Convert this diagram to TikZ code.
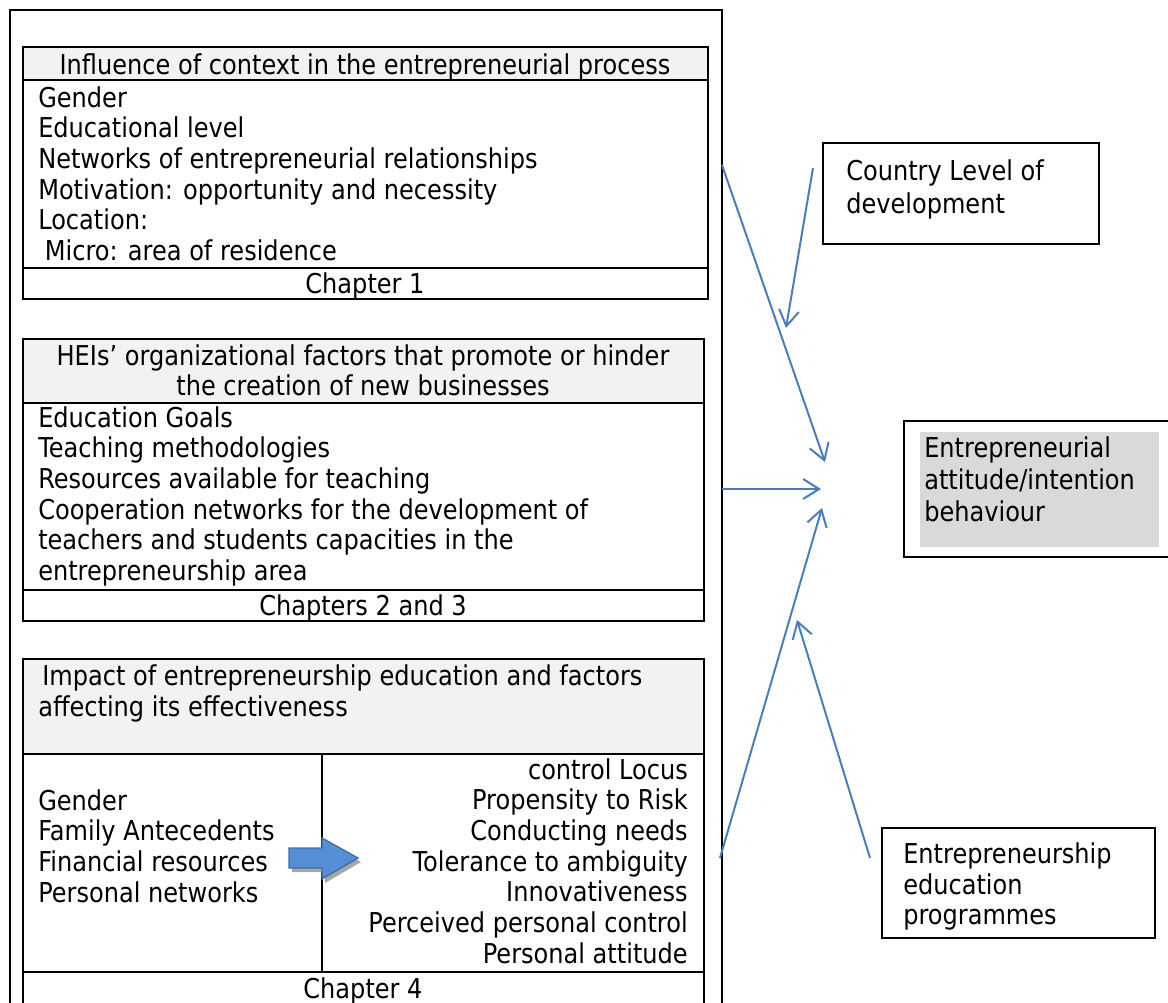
\documentclass[tikz,border=0pt]{standalone}
\usepackage{fontspec}
\setmainfont{DejaVu Sans}[FakeStretch=0.88]
\usetikzlibrary{arrows.meta}
\definecolor{hdrgray}{HTML}{F2F2F2}
\definecolor{boxgray}{HTML}{D9D9D9}
\definecolor{linkblue}{HTML}{4A7EBB}
\definecolor{bigblue}{HTML}{558ED5}
\definecolor{bigedge}{HTML}{3F6EA8}
\tikzset{
  txt/.style={inner sep=0pt, font=\fontsize{20.5}{24}\selectfont},
  frame/.style={draw=black, line width=1.1pt},
  sideframe/.style={draw=black, line width=0.9pt},
  link/.style={draw=linkblue, line width=1.5pt, -{Straight Barb[length=12pt,width=15pt]}}
}
\begin{document}
\begin{tikzpicture}[x=0.75pt,y=-0.75pt]
\useasboundingbox (0,0) rectangle (1168,1003);
\def\bl{23}
\def\tx{38}
\def\dy{30.7}
% outer frame
\draw[frame] (10,1003) -- (10,10) -- (722,10) -- (722,1003);
% context box
\fill[hdrgray] (\bl,47) rectangle (708,80);
\draw[frame] (\bl,47) rectangle (708,299);
\draw[frame] (\bl,80) -- (708,80);
\draw[frame] (\bl,268) -- (708,268);
\node[txt, anchor=base] (ctxhead) at (365,74) {Influence of context in the entrepreneurial process};
\foreach \t [count=\i from 0] in {Gender,Educational level,Networks of entrepreneurial relationships,Motivation: opportunity and necessity,Location:,\hspace{5pt}Micro: area of residence}
  \node[txt, anchor=base west] (ctx\i) at (\tx,{107+\dy*\i}) {\t};
\node[txt, anchor=base] (ctxchap) at (365,293) {Chapter 1};
% HEI box
\fill[hdrgray] (\bl,339) rectangle (704,403);
\draw[frame] (\bl,339) rectangle (704,621);
\draw[frame] (\bl,403) -- (704,403);
\draw[frame] (\bl,590) -- (704,590);
\node[txt, anchor=base] (heihead1) at (363,365) {HEIs’ organizational factors that promote or hinder};
\node[txt, anchor=base] (heihead2) at (363,395) {the creation of new businesses};
\foreach \t [count=\i from 0] in {Education Goals,Teaching methodologies,Resources available for teaching,Cooperation networks for the development of,teachers and students capacities in the,entrepreneurship area}
  \node[txt, anchor=base west] (hei\i) at (\tx,{427+\dy*\i}) {\t};
\node[txt, anchor=base] (heichap) at (363,615) {Chapters 2 and 3};
% education impact box
\fill[hdrgray] (\bl,659) rectangle (704,754);
\draw[frame] (\bl,1003) -- (\bl,659) -- (704,659) -- (704,1003);
\draw[frame] (\bl,754) -- (704,754);
\draw[frame] (322,754) -- (322,972);
\draw[frame] (\bl,972) -- (704,972);
\node[txt, anchor=base west] (imphead1) at (\tx,685) {\hspace{3pt}Impact of entrepreneurship education and factors};
\node[txt, anchor=base west] (imphead2) at (\tx,716) {affecting its effectiveness};
\foreach \t [count=\i from 0] in {Gender,Family Antecedents,Financial resources,Personal networks}
  \node[txt, anchor=base west] (impl\i) at (\tx,{810+\dy*\i}) {\t};
\foreach \t [count=\i from 0] in {control Locus,Propensity to Risk,Conducting needs,Tolerance to ambiguity,Innovativeness,Perceived personal control,Personal attitude}
  \node[txt, anchor=base east] (impr\i) at (688,{779+\dy*\i}) {\t};
\node[txt, anchor=base] (impchap) at (363,998) {Chapter 4};
% block arrow with shadow
\fill[black!35] (292,851) -- (325,851) -- (325,841) -- (361,862) -- (325,883) -- (325,872) -- (292,872) -- cycle;
\filldraw[fill=bigblue, draw=bigedge, line width=1pt] (289,848) -- (322,848) -- (322,838) -- (358,858) -- (322,879) -- (322,868) -- (289,868) -- cycle;
% side boxes
\draw[sideframe] (823,143) rectangle (1099,244);
\node[txt, anchor=base west] (country1) at (846,180) {Country Level of};
\node[txt, anchor=base west] (country2) at (846,213) {development};
\draw[sideframe] (904,421) rectangle (1172,557);
\fill[boxgray] (920,432) rectangle (1159,547);
\node[txt, anchor=base west] (attit1) at (924,457) {Entrepreneurial};
\node[txt, anchor=base west] (attit2) at (924,489) {attitude/intention};
\node[txt, anchor=base west] (attit3) at (924,521) {behaviour};
\draw[sideframe] (882,828) rectangle (1155,938);
\node[txt, anchor=base west] (prog1) at (903,863) {Entrepreneurship};
\node[txt, anchor=base west] (prog2) at (903,894) {education};
\node[txt, anchor=base west] (prog3) at (903,924) {programmes};
% connectors
\coordinate (ctxout) at (722,165);
\coordinate (heiout) at (722,489);
\coordinate (impout) at (720,858);
\coordinate (ctryout) at (813,168);
\coordinate (progout) at (870,858);
\coordinate (inA) at (825,462);
\coordinate (inB) at (786,328);
\coordinate (inC) at (821,489);
\coordinate (inD) at (822,508);
\coordinate (inE) at (797,620);
\draw[link] (ctxout) -- (inA);
\draw[link] (ctryout) -- (inB);
\draw[link] (heiout) -- (inC);
\draw[link] (impout) -- (inD);
\draw[link] (progout) -- (inE);
\end{tikzpicture}
\end{document}
